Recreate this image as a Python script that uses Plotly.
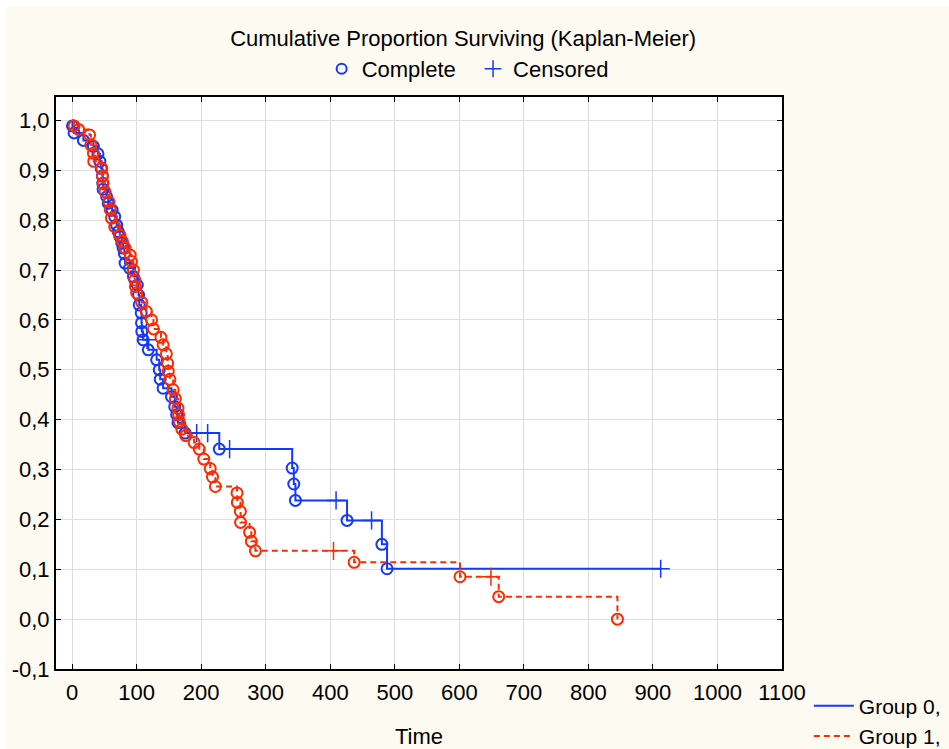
import plotly.graph_objects as go

# ---------------- data ----------------
# Group 0 (blue, solid): time, survival after the time point, status (1 = complete, 0 = censored)
g0_time = [0.5, 3, 17.5, 33, 40, 43, 45, 47, 47.5, 48, 53.6, 56, 62, 66, 69, 71.5, 74, 77, 79, 81,
           82, 89, 95, 101, 103, 104, 107, 107.5, 108, 110, 116, 118, 131, 135, 136.5, 141, 154,
           159, 162, 164, 175, 193, 210, 228, 244, 341, 343.5, 346, 409, 426, 464, 480, 488, 912]
g0_surv = [0.989, 0.975, 0.960, 0.948, 0.933, 0.918, 0.904, 0.889, 0.874, 0.862, 0.847, 0.834,
           0.820, 0.807, 0.790, 0.777, 0.767, 0.754, 0.744, 0.733, 0.714, 0.704, 0.687, 0.670,
           0.650, 0.630, 0.614, 0.594, 0.577, 0.560, 0.560, 0.540, 0.520, 0.500, 0.481, 0.463,
           0.446, 0.426, 0.410, 0.394, 0.373, 0.373, 0.373, 0.341, 0.341, 0.303, 0.271, 0.238,
           0.238, 0.198, 0.198, 0.150, 0.101, 0.101]
g0_status = [1, 1, 1, 1, 1, 1, 1, 1, 1, 1, 1, 1, 1, 1, 1, 1, 1, 1, 1, 1,
             1, 1, 1, 1, 1, 1, 1, 1, 1, 1, 0, 1, 1, 1, 1, 1, 1,
             1, 1, 1, 1, 0, 0, 1, 0, 1, 1, 1, 0, 1, 0, 1, 1, 0]

# Group 1 (red, dashed)
g1_time = [3, 10, 27, 29, 33, 33.5, 46, 47, 48, 51, 57, 59, 61, 66, 74, 78, 82, 90, 92, 95, 97,
           98, 100, 108, 115, 123, 126, 137.6, 141, 146, 148, 149, 151.5, 156.6, 160, 164, 165,
           166, 170, 176, 189, 197, 204, 214, 217.5, 222, 255.5, 256, 260.7, 261, 275, 277.7,
           284, 405, 437, 601, 649, 661, 845]
g1_surv = [0.989, 0.982, 0.971, 0.951, 0.934, 0.918, 0.904, 0.888, 0.874, 0.857, 0.837, 0.821,
           0.804, 0.787, 0.770, 0.757, 0.744, 0.730, 0.717, 0.700, 0.680, 0.667, 0.654, 0.635,
           0.617, 0.600, 0.582, 0.565, 0.550, 0.532, 0.513, 0.497, 0.481, 0.460, 0.442, 0.423,
           0.410, 0.396, 0.381, 0.368, 0.354, 0.341, 0.321, 0.302, 0.285, 0.266, 0.253, 0.234,
           0.216, 0.194, 0.174, 0.156, 0.137, 0.137, 0.114, 0.085, 0.085, 0.045, 0.000]
g1_status = [1] * 53 + [0, 1, 1, 0, 1, 1]

x_ticks = [0, 100, 200, 300, 400, 500, 600, 700, 800, 900, 1000, 1100]
y_ticks = [-0.1, 0.0, 0.1, 0.2, 0.3, 0.4, 0.5, 0.6, 0.7, 0.8, 0.9, 1.0]
y_tick_text = ["-0,1", "0,0", "0,1", "0,2", "0,3", "0,4", "0,5", "0,6", "0,7", "0,8", "0,9", "1,0"]

BLUE = "#1438ff"
RED = "#ff2a00"
CREAM = "#fdfaf2"
FONT = "Liberation Sans, Arial, sans-serif"
FS = 22
NB = "\u00a0"

fig = go.Figure()


def add_group(times, surv, status, color, dash, name):
    fig.add_trace(go.Scatter(
        x=[0] + times, y=[1.0] + surv, mode="lines", line_shape="hv",
        line=dict(color=color, width=2, dash=dash), showlegend=False, hoverinfo="skip"))
    ev_x = [t for t, s in zip(times, status) if s == 1]
    ev_y = [v for v, s in zip(surv, status) if s == 1]
    ce_x = [t for t, s in zip(times, status) if s == 0]
    ce_y = [v for v, s in zip(surv, status) if s == 0]
    fig.add_trace(go.Scatter(
        x=ev_x, y=ev_y, mode="markers", showlegend=False,
        marker=dict(symbol="circle-open", size=11, color=color, line=dict(width=2, color=color))))
    fig.add_trace(go.Scatter(
        x=ce_x, y=ce_y, mode="markers", showlegend=False,
        marker=dict(symbol="cross-thin-open", size=13, color=color, line=dict(width=1.5, color=color))))
    # legend entry for group line
    fig.add_trace(go.Scatter(
        x=[None], y=[None], mode="lines", name=name, legend="legend2",
        line=dict(color=color, width=2, dash=dash)))


add_group(g0_time, g0_surv, g0_status, BLUE, "solid", "Group 0,")
add_group(g1_time, g1_surv, g1_status, RED, "6px,4px", "Group 1,")

# top legend (marker types)
fig.add_trace(go.Scatter(
    x=[None], y=[None], mode="markers", name="Complete" + NB * 2, legend="legend",
    marker=dict(symbol="circle-open", size=10, color=BLUE, line=dict(width=2, color=BLUE))))
fig.add_trace(go.Scatter(
    x=[None], y=[None], mode="markers", name="Censored", legend="legend",
    marker=dict(symbol="cross-thin-open", size=12, color=BLUE, line=dict(width=1.5, color=BLUE))))

axis_common = dict(
    showline=True, linecolor="black", linewidth=2, mirror="ticks",
    ticks="inside", ticklen=5, tickwidth=1, tickcolor="black",
    showgrid=True, gridcolor="#dedede", gridwidth=1, zeroline=False,
    tickfont=dict(family=FONT, size=FS, color="black"),
)

fig.update_layout(
    width=949, height=749,
    margin=dict(l=56, r=167, t=97, b=80, autoexpand=False),
    paper_bgcolor="white", plot_bgcolor="white",
    font=dict(family=FONT, size=FS, color="black"),
    title=dict(text="Cumulative Proportion Surviving (Kaplan-Meier)", x=0.488, xanchor="center",
               y=1 - 38 / 749, yanchor="middle", font=dict(family=FONT, size=FS, color="black")),
    xaxis=dict(range=[-25, 1100], tickvals=x_ticks, ticklabelstandoff=3,
               title=dict(text="Time", standoff=31, font=dict(family=FONT, size=FS)), **axis_common),
    yaxis=dict(range=[-0.1, 1.047], tickvals=y_ticks, ticktext=y_tick_text, **axis_common),
    legend=dict(orientation="h", x=0.567, xanchor="center", y=1.049, yanchor="middle",
                bgcolor="rgba(0,0,0,0)", font=dict(family=FONT, size=FS)),
    legend2=dict(orientation="v", x=1.037, xanchor="left", y=-0.091, yanchor="middle",
                 itemwidth=40, bgcolor="rgba(0,0,0,0)", font=dict(family=FONT, size=21)),
    shapes=[
        dict(type="rect", xref="paper", yref="paper", x0=-0.069, x1=1.3, y0=-0.2, y1=1.157,
             fillcolor=CREAM, line=dict(width=0), layer="below"),
        dict(type="rect", xref="paper", yref="paper", x0=0, x1=1, y0=0, y1=1,
             fillcolor="white", line=dict(width=0), layer="below"),
    ],
)

fig.write_html("out.html")
